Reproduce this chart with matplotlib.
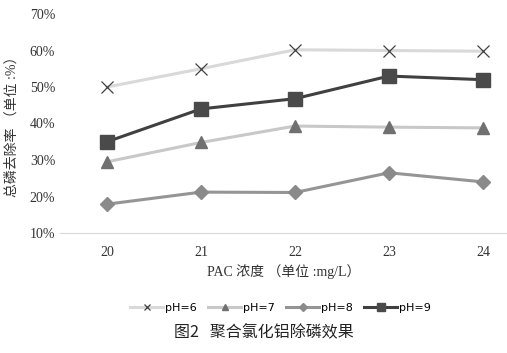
import numpy as np
import matplotlib.pyplot as plt

plt.rcParams['font.family'] = ['Liberation Serif', 'Noto Sans CJK SC', 'DejaVu Sans']

# data
dose = [20, 21, 22, 23, 24]
ph6 = [50.0, 55.0, 60.2, 60.0, 59.8]
ph7 = [29.5, 34.8, 39.3, 39.0, 38.8]
ph8 = [17.9, 21.2, 21.1, 26.5, 24.0]
ph9 = [35.0, 44.0, 46.8, 53.0, 52.0]
yticks = [10, 20, 30, 40, 50, 60, 70]

fig = plt.figure(figsize=(5.07, 3.53), dpi=100)
ax = fig.add_axes([60/507, 1-233/353, 1-60/507, (233-14)/353])

ax.plot(dose, ph6, color='#d9d9d9', lw=2.2, marker='x', ms=9, mec='#404040', mew=0.9, label='pH=6')
ax.plot(dose, ph7, color='#c8c8c8', lw=2.2, marker='^', ms=8, mfc='#707070', mec='#707070', label='pH=7')
ax.plot(dose, ph8, color='#959595', lw=2.2, marker='D', ms=7, mfc='#8a8a8a', mec='#8a8a8a', label='pH=8')
ax.plot(dose, ph9, color='#404040', lw=2.2, marker='s', ms=10, mfc='#4a4a4a', mec='#4a4a4a', label='pH=9')

ax.set_xlim(19.5, 24.255)
ax.set_ylim(10, 70)
ax.set_xticks(dose)
ax.set_yticks(yticks)
ax.set_yticklabels([f'{v}%' for v in yticks])
ax.tick_params(length=0, labelsize=10, colors='#333333')
ax.tick_params(axis='x', pad=9)
for s in ['top', 'right', 'left']:
    ax.spines[s].set_visible(False)
ax.spines['bottom'].set_color('#d9d9d9')

ax.set_xlabel('PAC 浓度 （单位 :mg/L）', fontsize=10, color='#333333', labelpad=4)
ax.set_ylabel('总磷去除率 （单位 :%）', fontsize=10, color='#333333', labelpad=8)

fig.legend(*ax.get_legend_handles_labels(), loc='center', bbox_to_anchor=(0.553, 1-308/353),
           ncol=4, frameon=False, prop={'family': 'DejaVu Sans', 'size': 8},
           markerscale=0.55, handlelength=3.0, handletextpad=0.15, columnspacing=1.0)

fig.text(0.52, 1-333/353, '图2   聚合氯化铝除磷效果', ha='center', va='center', fontsize=11.5,
         family=['Noto Sans CJK SC', 'DejaVu Sans'], color='#222222')

fig.savefig('out.png', dpi=100)
